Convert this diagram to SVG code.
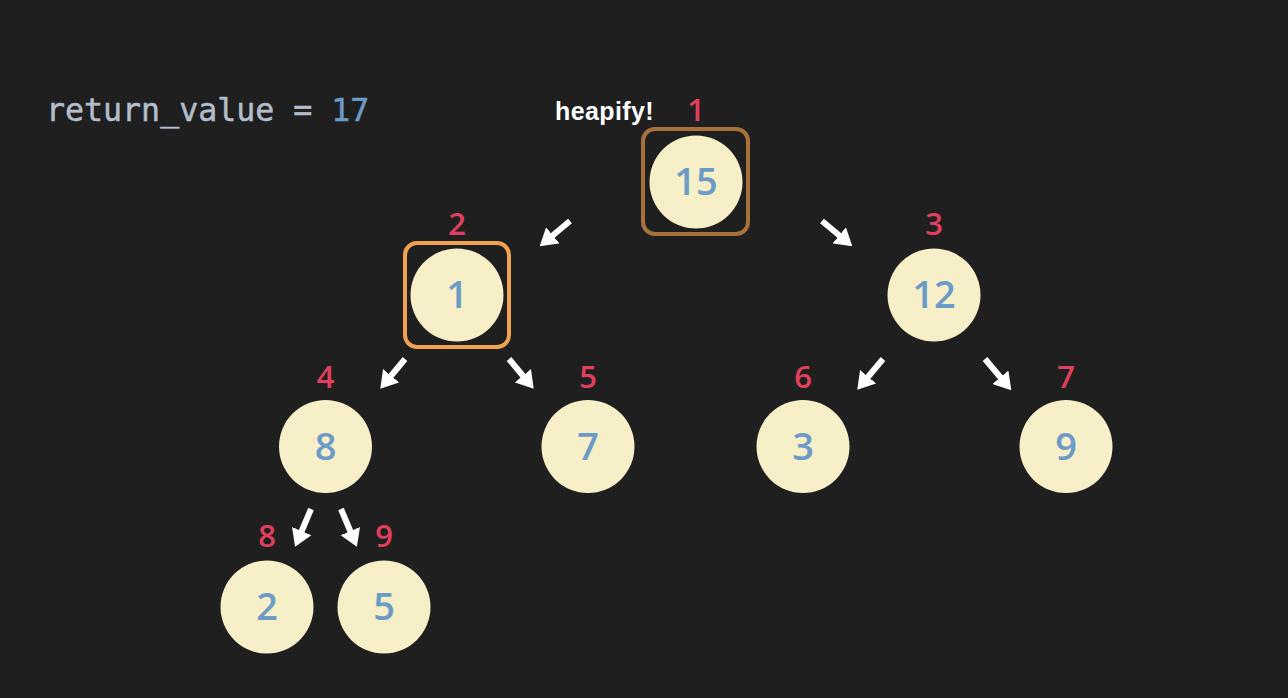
<svg xmlns="http://www.w3.org/2000/svg" width="1288" height="698" viewBox="0 0 1288 698">
  <defs>
    <marker id="ah" markerUnits="userSpaceOnUse" markerWidth="17" markerHeight="21" viewBox="0 0 17 21" refX="1" refY="10.5" orient="auto">
      <path d="M0,0 L17,10.5 L0,21 z" fill="#ffffff"/>
    </marker>
    <style>
      .node circle { fill: #f6efc8; }
      .val { font-family: "Open Sans", "Noto Sans", sans-serif; font-size: 38px; font-weight: 600; fill: #6b9bc6; text-anchor: middle; }
      .idx { font-family: "Open Sans", "Noto Sans", sans-serif; font-size: 31px; font-weight: 600; fill: #e0405e; text-anchor: middle; }
      .conn line { stroke: #ffffff; stroke-width: 6; marker-end: url(#ah); }
      .box { fill: none; stroke-width: 4; }
    </style>
  </defs>
  <rect width="1288" height="698" fill="#1f1f1f"/>

  <text x="46" y="121" font-family="DejaVu Sans Mono, monospace" font-size="31.6" fill="#b3bdcb" stroke="#b3bdcb" stroke-width="0.5">return_value = <tspan fill="#6b9bc6" stroke="#6b9bc6">17</tspan></text>
  <text x="555" y="120" font-family="Liberation Sans, Arial, sans-serif" font-size="25" font-weight="bold" fill="#ffffff" letter-spacing="0.4">heapify!</text>

  <g class="conn">
    <line x1="570" y1="221" x2="552" y2="236"/>
    <line x1="822" y1="221" x2="840" y2="236"/>
    <line x1="405" y1="359" x2="390.5" y2="376.5"/>
    <line x1="509" y1="359" x2="523.5" y2="376.5"/>
    <line x1="883" y1="359" x2="867.5" y2="377.5"/>
    <line x1="985" y1="359" x2="1001" y2="378"/>
    <line x1="311" y1="509" x2="301.3" y2="532"/>
    <line x1="341" y1="509" x2="350.7" y2="532"/>
  </g>

  <g id="n1" class="node">
    <rect class="box" x="643" y="129" width="105" height="105" rx="12" stroke="#a8703a"/>
    <circle cx="696" cy="182" r="46.5"/>
    <text class="val" x="696" y="195">15</text>
    <text class="idx" x="696" y="121">1</text>
  </g>
  <g id="n2" class="node">
    <rect class="box" x="405" y="243" width="104" height="104" rx="12" stroke="#f0a152"/>
    <circle cx="457" cy="295" r="46.5"/>
    <text class="val" x="457" y="308">1</text>
    <text class="idx" x="457" y="235">2</text>
  </g>
  <g id="n3" class="node">
    <circle cx="934" cy="295" r="46.5"/>
    <text class="val" x="934" y="308">12</text>
    <text class="idx" x="934" y="235">3</text>
  </g>
  <g id="n4" class="node">
    <circle cx="325.5" cy="446.5" r="46.5"/>
    <text class="val" x="325.5" y="460">8</text>
    <text class="idx" x="325.5" y="388">4</text>
  </g>
  <g id="n5" class="node">
    <circle cx="588" cy="446.5" r="46.5"/>
    <text class="val" x="588" y="460">7</text>
    <text class="idx" x="588" y="388">5</text>
  </g>
  <g id="n6" class="node">
    <circle cx="803" cy="446.5" r="46.5"/>
    <text class="val" x="803" y="460">3</text>
    <text class="idx" x="803" y="388">6</text>
  </g>
  <g id="n7" class="node">
    <circle cx="1066" cy="446.5" r="46.5"/>
    <text class="val" x="1066" y="460">9</text>
    <text class="idx" x="1066" y="388">7</text>
  </g>
  <g id="n8" class="node">
    <circle cx="267" cy="607" r="46.5"/>
    <text class="val" x="267" y="620">2</text>
    <text class="idx" x="267" y="547">8</text>
  </g>
  <g id="n9" class="node">
    <circle cx="384" cy="607" r="46.5"/>
    <text class="val" x="384" y="620">5</text>
    <text class="idx" x="384" y="547">9</text>
  </g>
</svg>
